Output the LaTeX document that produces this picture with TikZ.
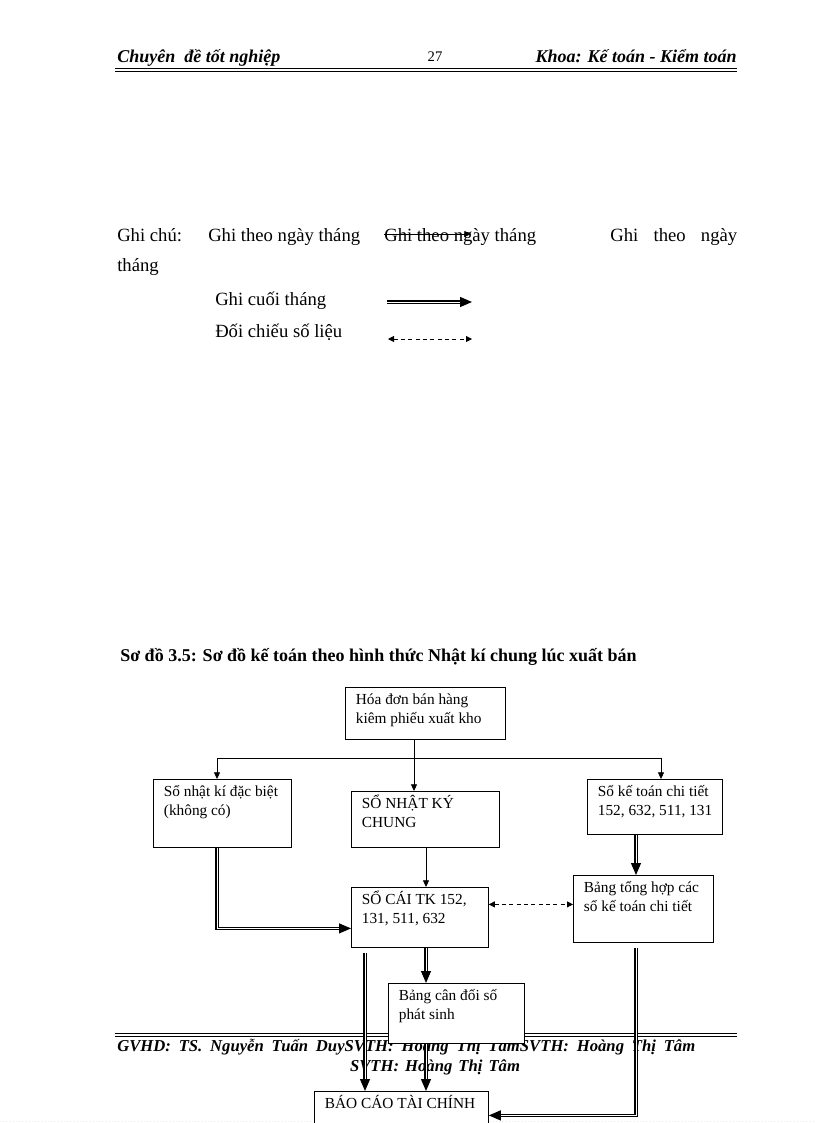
\documentclass[tikz,border=0pt]{standalone}
\usepackage{fontspec}
\setmainfont{Liberation Serif}
\usetikzlibrary{arrows.meta}
\newdimen\px \px=0.75pt
\newcommand{\boxtext}[3]{\parbox[c][#2\px][t]{#1\px}{\raggedright\leftskip=10.5\px\baselineskip=19\px\rule{0pt}{17\px}#3}}

\begin{document}
\begin{tikzpicture}[x=0.75pt,y=-0.75pt,
    box/.style={draw, line width=0.6pt, fill=white, anchor=north west, inner sep=0pt, font=\fontsize{11.5pt}{14pt}\selectfont},
    arr/.style={line width=0.6pt, -{Triangle[length=5pt,width=4.5pt]}},
    dblarr/.style={double, double distance=0.6pt, line width=0.9pt, -{Triangle[length=9pt,width=7.5pt]}},
    cmparr/.style={line width=0.6pt, dash pattern=on 3pt off 2.5pt, {Triangle[length=4.5pt,width=4.5pt]}-{Triangle[length=4.5pt,width=4.5pt]}},
    legend/.style={anchor=base west, inner sep=0pt, font=\fontsize{14pt}{17pt}\selectfont},
    hdr/.style={anchor=base west, inner sep=0pt, font=\fontsize{13.5pt}{16pt}\selectfont\bfseries\itshape}]
    \useasboundingbox (0,0) rectangle (816,1123);

    % header
    \node[hdr] (title) at (117,63) {Chuyên\ \ đề tốt nghiệp};
    \node[hdr, anchor=base, font=\fontsize{11pt}{13pt}\selectfont] (page) at (435,62) {27};
    \node[hdr, anchor=base east] (khoa) at (737,63) {Khoa: Kế toán - Kiểm toán};
    \draw[line width=1.4pt] (115,68.5) -- (737,68.5);
    \draw[line width=0.5pt] (115,71.5) -- (737,71.5);

    % legend
    \node[legend] (ghichu) at (117,241) {Ghi chú:};
    \node[legend] (ngay1) at (208,241) {Ghi theo ngày tháng};
    \node[legend] (ngay2) at (384,241) {Ghi theo ngày tháng};
    \node[legend] (ngay3) at (610,241) {\makebox[95.25pt][s]{Ghi theo ngày}};
    \node[legend] (thang) at (117,272) {tháng};
    \node[legend] (cuoithang) at (215,305) {Ghi cuối tháng};
    \node[legend] (doichieu) at (215,337) {Đối chiếu số liệu};
    \coordinate (n1) at (384,234);
    \coordinate (n2) at (471,234);
    \coordinate (c1) at (387,302);
    \coordinate (c2) at (472,302);
    \coordinate (d1) at (388,339);
    \coordinate (d2) at (472,339);
    \draw[arr] (n1) -- (n2);
    \draw[dblarr] (c1) -- (c2);
    \draw[cmparr] (d1) -- (d2);

    % caption
    \node[anchor=base west, inner sep=0pt, font=\fontsize{13.5pt}{16pt}\selectfont\bfseries] (caption) at (120,661)
        {Sơ đồ 3.5: Sơ đồ kế toán theo hình thức Nhật kí chung lúc xuất bán};

    % footer
    \draw[line width=0.5pt] (115,1033) -- (737,1033);
    \draw[line width=0.5pt] (115,1036) -- (737,1036);
    \node[hdr, font=\fontsize{12.5pt}{15pt}\selectfont\bfseries\itshape] (gvhd) at (117,1051)
        {\makebox[433.5pt][s]{GVHD: TS. Nguyễn Tuấn DuySVTH: Hoàng Thị TâmSVTH: Hoàng Thị Tâm}};
    \node[hdr, anchor=base, font=\fontsize{12.5pt}{15pt}\selectfont\bfseries\itshape] (svth) at (435,1071)
        {\makebox[127.5pt][s]{SVTH: Hoàng Thị Tâm}};
    \draw[pink!45, dotted] (0,1121) -- (816,1121);

    % boxes
    \node[box] (hoadon) at (345,687) {\boxtext{160}{52}{Hóa đơn bán hàng\\kiêm phiếu xuất kho}};
    \node[box] (dacbiet) at (153,779) {\boxtext{138}{68}{Sổ nhật kí đặc biệt\\(không có)}};
    \node[box] (nkchung) at (351,791) {\boxtext{148}{56}{SỔ NHẬT KÝ\\CHUNG}};
    \node[box] (chitiet) at (587,779) {\boxtext{135}{55}{Sổ kế toán chi tiết\\152, 632, 511, 131}};
    \node[box] (socai) at (351,887) {\boxtext{137}{60}{SỔ CÁI TK 152,\\131, 511, 632}};
    \node[box] (tonghop) at (573,875) {\boxtext{140}{67}{Bảng tổng hợp các\\sổ kế toán chi tiết}};
    \node[box] (candoi) at (388,983) {\boxtext{136}{60}{Bảng cân đối số\\phát sinh}};
    \node[box] (baocao) at (314,1091) {\boxtext{174}{48}{BÁO CÁO TÀI CHÍNH}};

    % connectors
    \coordinate (xa) at (217,0);
    \coordinate (xb) at (365,0);
    \coordinate (xc) at (414,0);
    \coordinate (xd) at (426,0);
    \coordinate (xe) at (636,0);
    \coordinate (xf) at (661,0);
    \coordinate (split) at (0,758);
    \draw[arr] (xc |- hoadon.south) -- (xc |- nkchung.north);
    \draw[line width=0.6pt] (xa |- split) -- (xf |- split);
    \draw[arr] (xa |- split) -- (xa |- dacbiet.north);
    \draw[arr] (xf |- split) -- (xf |- chitiet.north);
    \draw[dblarr] (xa |- dacbiet.south) |- ([yshift=-8.25pt]socai.west);
    \draw[arr] (xd |- nkchung.south) -- (xd |- socai.north);
    \draw[dblarr] (xe |- chitiet.south) -- (xe |- tonghop.north);
    \draw[cmparr] ([yshift=9.75pt]socai.east) -- ([yshift=9.75pt]socai.east -| tonghop.west);
    \draw[dblarr] (xd |- socai.south) -- (xd |- candoi.north);
    \draw[dblarr] ([yshift=-4pt]xb |- socai.south) -- (xb |- baocao.north);
    \draw[dblarr] (xd |- candoi.south) -- (xd |- baocao.north);
    \draw[dblarr] ([yshift=-4pt]xe |- tonghop.south) |- (baocao.east);
\end{tikzpicture}
\end{document}
